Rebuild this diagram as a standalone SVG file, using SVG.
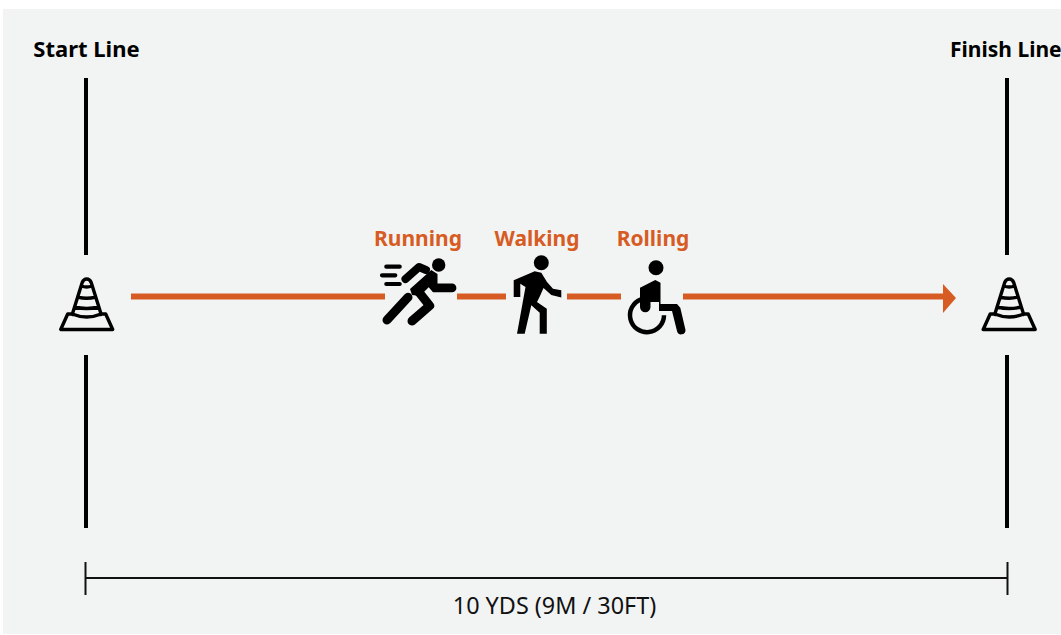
<svg xmlns="http://www.w3.org/2000/svg" width="1061" height="635" viewBox="0 0 1061 635">
<style>
.hdr{font:700 22px "Noto Sans","Open Sans",sans-serif;fill:#000}
.lbl{font:700 21px "Noto Sans","Open Sans",sans-serif;fill:#d75c23;text-anchor:middle}
.dim{font:400 23.400px "Noto Sans","Open Sans",sans-serif;fill:#111;text-anchor:middle}
.bar{stroke:#000;stroke-width:4;fill:none}
.thin{stroke:#111;stroke-width:2;fill:none}
.track{stroke:#d75c23;stroke-width:6;fill:none}
.ink{stroke:#000;fill:none;stroke-linecap:round;stroke-linejoin:round}
</style>
<defs>
<g id="cone">
<path class="ink" stroke-width="3.400" d="M-14.500 15.500L-4.500 -16.500Q-3 -20 0 -20Q3 -20 4.500 -16.500L14.500 15.500M-5.500 -13Q0 -11 5.500 -13M-9 -2Q0 0.500 9 -2M-12 8Q0 11 12 8M-14.500 15Q0 21 14.500 15M-14.500 15H-19L-26 30.500H26L19 15H14.500"/>
</g>
</defs>
<rect x="3" y="9" width="1058" height="625" fill="#f2f4f4"/>
<g id="connectors">
<path class="bar" d="M86 78V255M86 355V528M1007 78V255M1007 355V528"/>
<path class="track" d="M131 296.500H385M457 296.500H506M567 296.500H621M683 296.500H945"/>
<path d="M943 284L956 298L943 313Z" fill="#d75c23"/>
<path class="thin" d="M86 578H1007M85.500 562V595M1007.500 562V595"/>
</g>
<g id="start-line"><text class="hdr" x="86.500" y="57" text-anchor="middle">Start Line</text></g>
<g id="finish-line"><text class="hdr" x="950" y="57" style="font-size:21px">Finish Line</text></g>
<g id="cone-start"><use href="#cone" x="86.700" y="299"/></g>
<g id="cone-finish"><use href="#cone" x="1009.200" y="299"/></g>
<g id="running">
<text class="lbl" x="418" y="246">Running</text>
<circle cx="438.700" cy="265" r="6.700"/>
<path class="ink" stroke-width="4.200" d="M386.300 266.700H399.700M382 275.300H395.300M386.300 284H399.700"/>
<path class="ink" stroke-width="8" d="M405.500 279L419 267L426 270"/>
<path d="M410 289L431.300 270L437.500 274V283.500H452A4.400 4.400 0 0 1 452 292.300H433L428.700 287.300L420 296L412 295Z"/>
<path class="ink" stroke-width="9" d="M418 291L429.700 305.700L412 321"/>
<path class="ink" stroke-width="9" d="M408 297.300L387 320"/>
</g>
<g id="walking">
<text class="lbl" x="537" y="246">Walking</text>
<circle cx="541.300" cy="262.700" r="7.500"/>
<path d="M513.700 280.300L534.700 271.300L541.300 272.700L547 282L553 288.700L561.300 290.300V297.500L551.300 295L543.500 288L540 296L537 302L546.800 308.700V333.700H539.700V312.700L531.300 305.300L524.700 333.700H517L525.500 287L520.300 283.700V297H513.700Z"/>
</g>
<g id="rolling">
<text class="lbl" x="653" y="246">Rolling</text>
<circle cx="656" cy="267.700" r="7.500"/>
<path d="M640 287.700L655.300 280L660.500 282.700V304H677L680.300 307.700L685.500 330A4.300 4.300 0 0 1 677 331L672 311H659V302H650.500V307A5.250 5.250 0 0 1 640 307Z"/>
<path fill="none" stroke="#000" stroke-width="4.500" d="M641 299.300A17 17 0 1 0 664 315.300"/>
</g>
<g id="dimension"><text class="dim" x="554.500" y="614">10 YDS (9M / 30FT)</text></g>
</svg>
